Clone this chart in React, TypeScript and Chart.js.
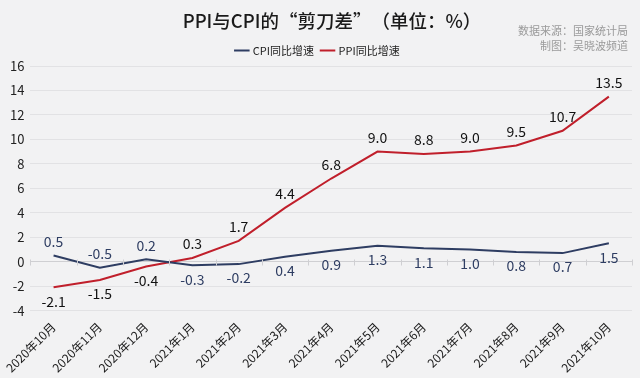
import React, { useEffect, useRef } from "react";
import { Chart, registerables } from "chart.js";

Chart.register(...registerables);

const categories = [
  "2020年10月", "2020年11月", "2020年12月", "2021年1月", "2021年2月", "2021年3月",
  "2021年4月", "2021年5月", "2021年6月", "2021年7月", "2021年8月", "2021年9月", "2021年10月",
];
const cpiValues = [0.5, -0.5, 0.2, -0.3, -0.2, 0.4, 0.9, 1.3, 1.1, 1.0, 0.8, 0.7, 1.5];
const ppiValues = [-2.1, -1.5, -0.4, 0.3, 1.7, 4.4, 6.8, 9.0, 8.8, 9.0, 9.5, 10.7, 13.5];
const cpiLabelSide = ["up", "up", "up", "down", "down", "down", "down", "down", "down", "down", "down", "down", "down"];
const ppiLabelSide = ["down", "down", "down", "up", "up", "up", "up", "up", "up", "up", "up", "up", "up"];
const titleText = "PPI与CPI的“剪刀差”（单位：%）";
const sourceLines = ["数据来源：国家统计局", "制图：吴晓波频道"];

const FONT = "'Noto Sans CJK SC', 'Noto Sans', sans-serif";
const CPI_COLOR = "#2e3d62";
const PPI_COLOR = "#c01f2b";
const BG = "#f2f2f3";

const bgPlugin = {
  id: "bgFill",
  beforeDraw(chart: any) {
    const { ctx, width, height } = chart;
    ctx.save();
    ctx.fillStyle = BG;
    ctx.fillRect(0, 0, width, height);
    ctx.restore();
  },
};

const extrasPlugin = {
  id: "extras",
  afterDatasetsDraw(chart: any) {
    const { ctx } = chart;
    const x = chart.scales.x;
    const y = chart.scales.y;
    ctx.save();
    // title
    ctx.font = `500 18.5px ${FONT}`;
    ctx.fillStyle = "#1a1a1a";
    ctx.textAlign = "center";
    ctx.textBaseline = "middle";
    ctx.fillText(titleText, 332, 21);
    // ticks on zero line
    ctx.strokeStyle = "#cfcfd2";
    ctx.lineWidth = 1;
    const y0 = Math.round(y.getPixelForValue(0)) + 0.5;
    for (let i = 0; i <= categories.length; i++) {
      const px = Math.round(x.left + (i * (x.right - x.left)) / categories.length) + 0.5;
      ctx.beginPath();
      ctx.moveTo(px, y0 - 3);
      ctx.lineTo(px, y0 + 3);
      ctx.stroke();
    }
    // data labels
    ctx.font = `14px ${FONT}`;
    ctx.textAlign = "center";
    ctx.textBaseline = "middle";
    const drawLabels = (idx: number, vals: number[], sides: string[], color: string) => {
      const meta = chart.getDatasetMeta(idx);
      ctx.fillStyle = color;
      meta.data.forEach((pt: any, i: number) => {
        const dy = sides[i] === "up" ? -14 : 14;
        ctx.fillText(vals[i].toFixed(1), pt.x, pt.y + dy);
      });
    };
    drawLabels(0, cpiValues, cpiLabelSide, CPI_COLOR);
    drawLabels(1, ppiValues, ppiLabelSide, "#111111");
    // source text
    ctx.font = `11px ${FONT}`;
    ctx.fillStyle = "#9a9a9a";
    ctx.textAlign = "right";
    ctx.fillText(sourceLines[0], 628, 31);
    ctx.fillText(sourceLines[1], 628, 46);
    ctx.restore();
  },
};

export default function App() {
  const ref = useRef<HTMLCanvasElement>(null);
  useEffect(() => {
    document.body.style.margin = "0";
    const chart = new Chart(ref.current!, {
      type: "line",
      data: {
        labels: categories,
        datasets: [
          {
            label: "CPI同比增速",
            data: cpiValues,
            borderColor: CPI_COLOR,
            backgroundColor: CPI_COLOR,
            borderWidth: 2,
            pointRadius: 0,
            tension: 0,
          },
          {
            label: "PPI同比增速",
            data: ppiValues,
            borderColor: PPI_COLOR,
            backgroundColor: PPI_COLOR,
            borderWidth: 2,
            pointRadius: 0,
            tension: 0,
          },
        ],
      },
      options: {
        animation: false,
        responsive: false,
        maintainAspectRatio: false,
        layout: { padding: { left: 4, right: 8, top: 37, bottom: 2 } },
        plugins: {
          title: { display: false },
          legend: {
            display: true,
            labels: {
              color: "#222",
              font: { family: FONT, size: 11 },
              usePointStyle: true,
              pointStyle: "line",
              boxWidth: 18,
              padding: 8,
            },
          },
          tooltip: { enabled: false },
        },
        scales: {
          x: {
            offset: true,
            grid: { display: false },
            border: { display: false },
            ticks: {
              color: "#1a1a1a",
              font: { family: FONT, size: 12 },
              minRotation: 45,
              maxRotation: 45,
              autoSkip: false,
              padding: 1,
            },
          },
          y: {
            min: -4,
            max: 16,
            border: { display: false },
            grid: {
              color: (c: any) => (c.tick && c.tick.value === 0 ? "#cfcfd2" : "#e2e2e4"),
              drawTicks: false,
            },
            ticks: {
              stepSize: 2,
              color: "#222",
              font: { family: FONT, size: 13 },
              padding: 6,
            },
          },
        },
      },
      plugins: [bgPlugin, extrasPlugin],
    });
    return () => chart.destroy();
  }, []);
  return (
    <div style={{ width: 640, height: 378 }}>
      <canvas ref={ref} width={640} height={378} style={{ display: "block" }} />
    </div>
  );
}
